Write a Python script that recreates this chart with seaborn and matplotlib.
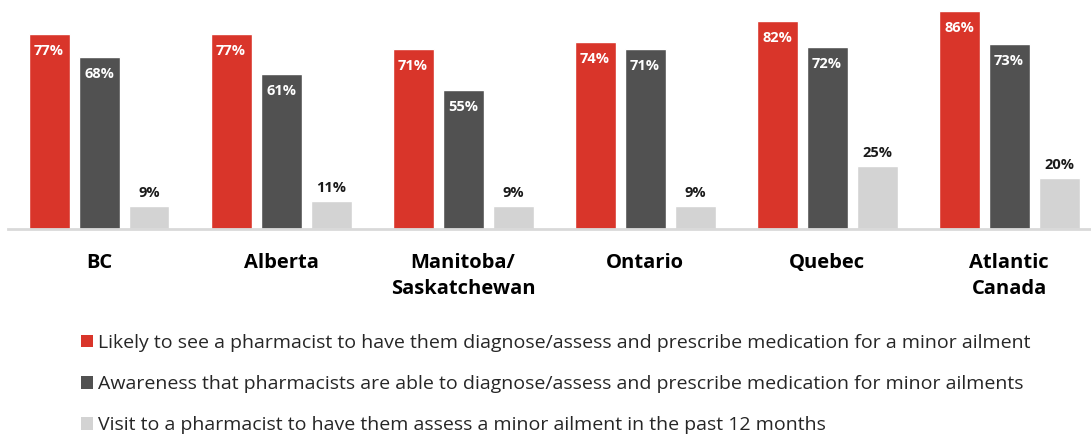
import matplotlib
matplotlib.use("Agg")
import matplotlib.pyplot as plt
import seaborn as sns
import pandas as pd
from matplotlib.patches import Patch

regions = ["BC", "Alberta", "Manitoba/\nSaskatchewan", "Ontario", "Quebec", "Atlantic\nCanada"]
series = [
    "Likely to see a pharmacist to have them diagnose/assess and prescribe medication for a minor ailment",
    "Awareness that pharmacists are able to diagnose/assess and prescribe medication for minor ailments",
    "Visit to a pharmacist to have them assess a minor ailment in the past 12 months",
]
likely = [77, 77, 71, 74, 82, 86]
aware = [68, 61, 55, 71, 72, 73]
visit = [9, 11, 9, 9, 25, 20]
colors = ["#D9352A", "#515151", "#D3D3D3"]

rows = []
for s, vals in zip(series, [likely, aware, visit]):
    for r, v in zip(regions, vals):
        rows.append({"region": r, "series": s, "value": v})
df = pd.DataFrame(rows)

sns.set_theme(style="white")
plt.rcParams["font.family"] = ["Open Sans", "DejaVu Sans"]

fig = plt.figure(figsize=(10.91, 4.37), dpi=100)
ax = fig.add_axes([8 / 1091, (437 - 229) / 437, 1 - 8 / 1091, 228 / 437])

sns.barplot(data=df, x="region", y="value", hue="series", palette=colors,
            width=0.824, gap=0.18, ax=ax, legend=False, saturation=1, errorbar=None)

ax.set_ylim(0, 90)
ax.set_xlim(-0.5, 5.45)
ax.set_xlabel("")
ax.set_ylabel("")
ax.set_yticks([])
for sp in ["top", "right", "left"]:
    ax.spines[sp].set_visible(False)
ax.spines["bottom"].set_color("#D9D9D9")
ax.spines["bottom"].set_linewidth(2)
ax.tick_params(axis="x", length=0, pad=17)
for lbl in ax.get_xticklabels():
    lbl.set_fontsize(14.5)
    lbl.set_fontweight("bold")
    lbl.set_color("black")
    lbl.set_linespacing(1.45)

for i, cont in enumerate(ax.containers):
    for bar in cont:
        h = bar.get_height()
        x = bar.get_x() + bar.get_width() / 2
        if i < 2:
            ax.annotate(f"{h:.0f}%", (x, h), xytext=(0, -17), textcoords="offset pixels",
                        ha="center", va="center", color="white", fontsize=10.5, fontweight="bold")
        else:
            ax.annotate(f"{h:.0f}%", (x, h), xytext=(0, 13), textcoords="offset pixels",
                        ha="center", va="center", color="#1a1a1a", fontsize=10.5, fontweight="bold")

handles = [Patch(facecolor=c, edgecolor="none", label=s) for c, s in zip(colors, series)]
fig.legend(handles=handles, loc="upper left", bbox_to_anchor=(73 / 1091, 1 - 326 / 437),
           frameon=False, fontsize=14, handlelength=0.62, handleheight=0.62,
           handletextpad=0.25, labelspacing=1.2, labelcolor="#262626", borderaxespad=0)

fig.savefig("out.png", dpi=100)
